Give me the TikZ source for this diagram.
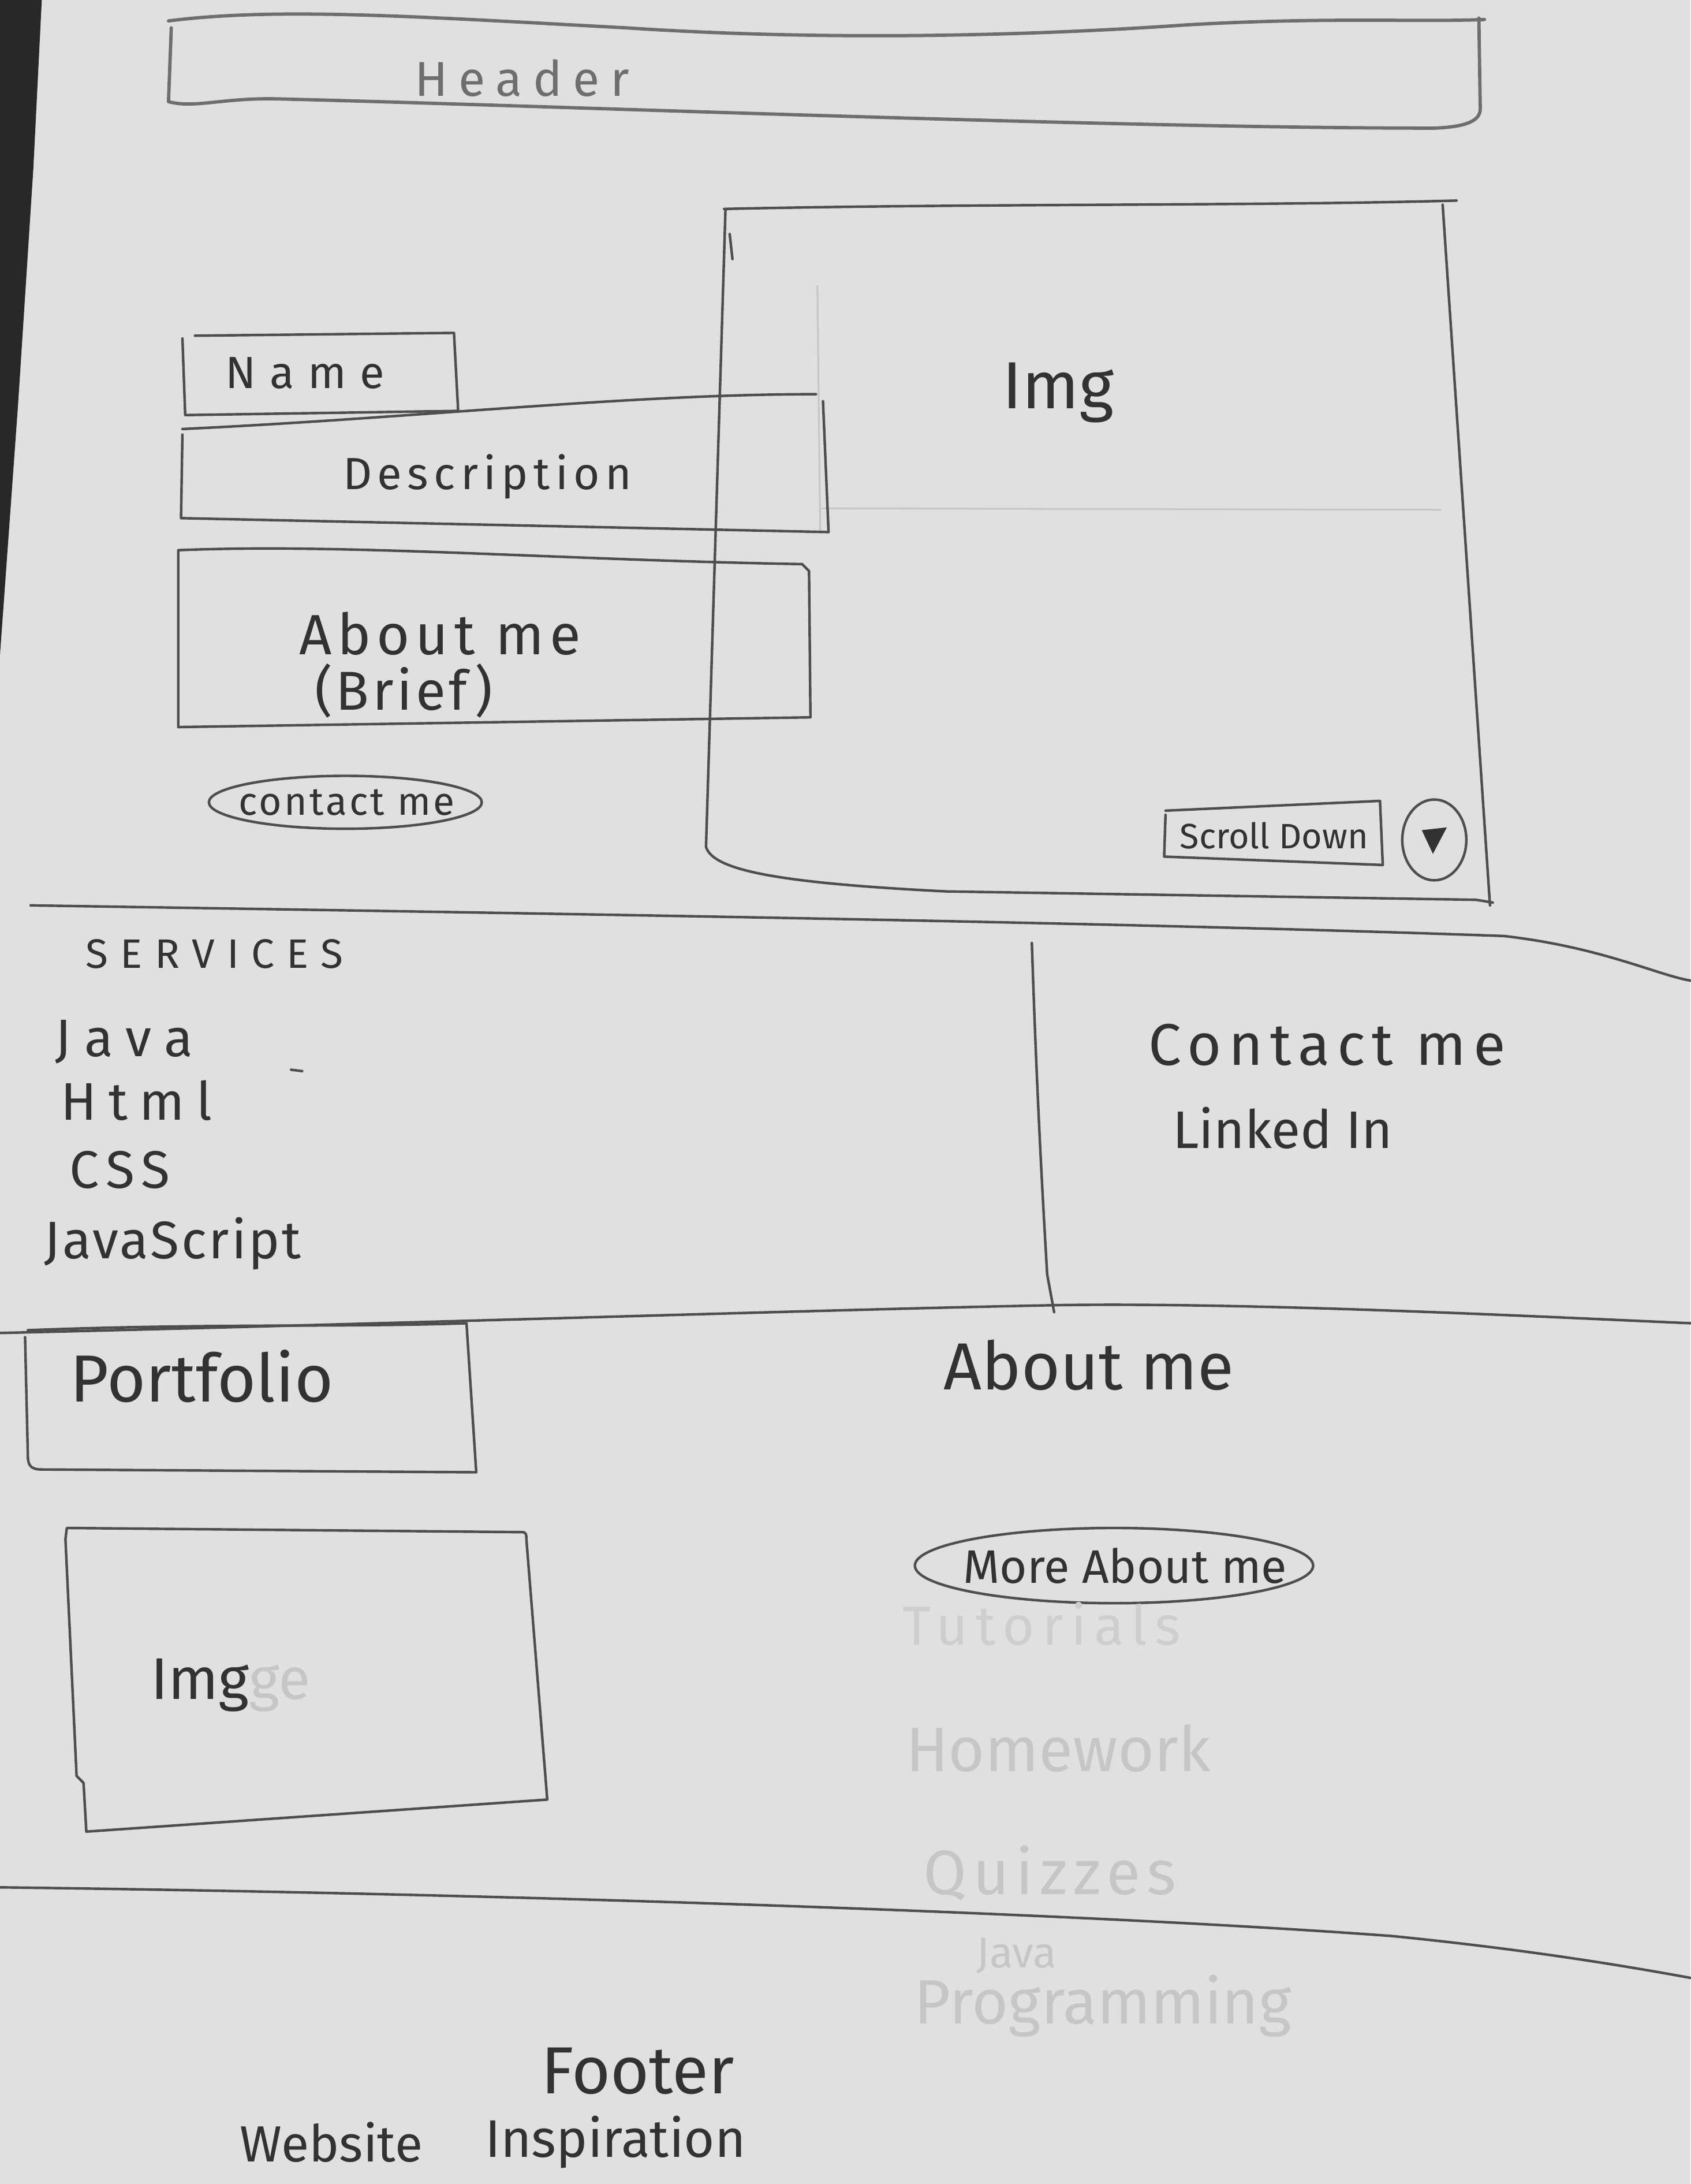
\documentclass[tikz,border=0pt]{standalone}
\usepackage{fontspec}
\setmainfont{Fira Sans}
\definecolor{paper}{RGB}{224,224,222}
\definecolor{desk}{RGB}{40,40,38}
\definecolor{pencil}{RGB}{78,78,78}
\definecolor{pencilsoft}{RGB}{110,110,110}
\definecolor{ink}{RGB}{50,50,50}
\definecolor{erased}{RGB}{198,198,196}
\definecolor{faded}{RGB}{206,206,204}
\tikzset{
  sketch/.style={draw=pencil, line width=1.3pt, line join=round, line cap=round},
  softsketch/.style={draw=pencilsoft, line width=1.7pt, line join=round, line cap=round},
  ghostline/.style={draw=erased, line width=0.9pt},
  lbl/.style={text=ink, inner sep=0pt, anchor=center},
  ghost/.style={text=erased, inner sep=0pt, anchor=center},
}
\newcommand{\fs}[1]{\fontsize{#1}{#1}\selectfont}
\newcommand{\spread}[1]{\addfontfeatures{LetterSpace=#1}}
\begin{document}
\begin{tikzpicture}[x=0.025cm, y=-0.025cm]
% page and desk edge
\fill[paper] (0,0) rectangle (1214,1568);
\useasboundingbox (0,0) rectangle (1214,1568);
\fill[desk] (0,0) -- (30,0) -- (24,120) -- (13,290) -- (0,470) -- cycle;

% ---------- header bar ----------
\draw[softsketch] (121,15) .. controls (200,5) and (300,12) .. (450,20)
      .. controls (600,30) and (750,25) .. (850,18)
      .. controls (950,12) and (1020,16) .. (1066,14);
\draw[softsketch] (123,20) -- (121,73) .. controls (140,78) and (160,70) .. (200,71)
      .. controls (400,76) and (800,92) .. (1030,92)
      .. controls (1055,91) and (1063,86) .. (1063,78) -- (1062,13);
\node[lbl, text=pencilsoft] (header) at (375,56) {\fs{25}\spread{22}Header};

% ---------- hero image ----------
\draw[sketch] (520,150) .. controls (700,146) and (900,148) .. (1046,144);
\draw[sketch] (521,150) -- (507,608) .. controls (512,625) and (560,634) .. (680,640)
      -- (1060,646) -- (1072,648);
\draw[sketch] (1036,147) -- (1070,650);
\draw[sketch] (524,168) -- (526,186);
\draw[ghostline] (587,205) -- (589,382);
\draw[ghostline] (590,365) -- (1035,366);
\node[lbl] (heroimg) at (760,282) {\fs{34}Img};

% name / description / about boxes
\draw[sketch] (131,243) -- (133,298) -- (329,295) -- (326,239) -- (140,241);
\node[lbl] (name) at (219,268) {\fs{23}\spread{30}Name};

\draw[sketch] (131,308) .. controls (300,300) and (450,283) .. (586,283);
\draw[sketch] (131,312) -- (130,372) -- (595,382) -- (591,288);
\node[lbl] (desc) at (350,342) {\fs{23}\spread{12}Description};

\draw[sketch] (128,395) .. controls (250,390) and (400,402) .. (576,405) -- (581,410)
      -- (582,515) -- (128,522) -- cycle;
\node[lbl] (aboutbrief) at (316,455) {\fs{29}\spread{10}About me};
\node[lbl] (brief) at (290,496) {\fs{28}\spread{6}(Brief)};

\draw[sketch] (248,576) ellipse [x radius=98, y radius=19];
\node[lbl] (contactbtn) at (249,576) {\fs{20}\spread{6}contact me};

% scroll hint
\draw[sketch] (837,585) -- (836,615) -- (993,621) -- (991,575) -- (837,582);
\node[lbl] (scroll) at (915,600) {\fs{18}Scroll Down};
\draw[sketch] (1030,603) ellipse [x radius=23, y radius=29];
\fill[ink] (1021,596) -- (1039,594) -- (1029,613) -- cycle;

% ---------- services / contact band ----------
\draw[sketch] (22,650) .. controls (400,656) and (800,662) .. (1080,672)
      .. controls (1150,680) and (1190,700) .. (1214,704);
\draw[sketch] (741,677) .. controls (745,800) and (750,880) .. (752,915) -- (757,942);

\node[lbl] (services) at (154,685) {\fs{21}\spread{30}SERVICES};
\node[lbl] (java) at (89,748) {\fs{27}\spread{25}Java};
\node[lbl] (html) at (98,790) {\fs{27}\spread{22}Html};
\node[lbl] (css) at (86,840) {\fs{27}\spread{14}CSS};
\node[lbl] (js) at (124,893) {\fs{27}\spread{4}JavaScript};
\draw[sketch] (209,768) -- (217,769);

\node[lbl] (contactme) at (953,750) {\fs{30}\spread{12}Contact me};
\node[lbl] (linkedin) at (921,810) {\fs{27}Linked In};

% ---------- portfolio / about band ----------
\draw[sketch] (0,957) .. controls (300,950) and (600,940) .. (760,937)
      .. controls (900,935) and (1100,945) .. (1214,950);

\draw[sketch] (20,955) .. controls (150,950) and (250,953) .. (335,950) -- (342,1057)
      -- (30,1055) .. controls (22,1055) and (20,1052) .. (20,1045) -- (18,960);
\node[lbl] (portfolio) at (145,988) {\fs{34}Portfolio};

\draw[sketch] (48,1097) -- (375,1100) .. controls (378,1100) and (378,1102) .. (378,1105)
      -- (393,1292) -- (62,1315) -- (60,1280) -- (55,1275) -- (47,1105) -- cycle;
\node[lbl, anchor=base west] (portimg) at (108,1220) {\fs{30}Img\textcolor{erased}{ge}};

\node[lbl] (aboutme) at (782,980) {\fs{34}About me};
\draw[sketch] (800,1124) ellipse [x radius=143, y radius=27];
\node[lbl] (moreabout) at (808,1124) {\fs{24}More About me};

% erased list
\node[ghost, text=faded] (tutorials) at (748,1166) {\fs{28}\spread{14}Tutorials};
\node[ghost] (homework) at (760,1255) {\fs{32}Homework};
\node[ghost] (quizzes) at (754,1345) {\fs{32}\spread{10}Quizzes};
\node[ghost] (javaold) at (730,1404) {\fs{22}Java};
\node[ghost] (programming) at (792,1440) {\fs{32}Programming};

% ---------- footer ----------
\draw[sketch] (0,1355) .. controls (400,1360) and (800,1375) .. (1000,1390)
      .. controls (1100,1400) and (1170,1412) .. (1214,1420);
\node[lbl] (footer) at (458,1487) {\fs{34}Footer};
\node[lbl] (website) at (238,1538) {\fs{26}Website};
\node[lbl] (inspiration) at (442,1538) {\fs{27}Inspiration};
\end{tikzpicture}
\end{document}
